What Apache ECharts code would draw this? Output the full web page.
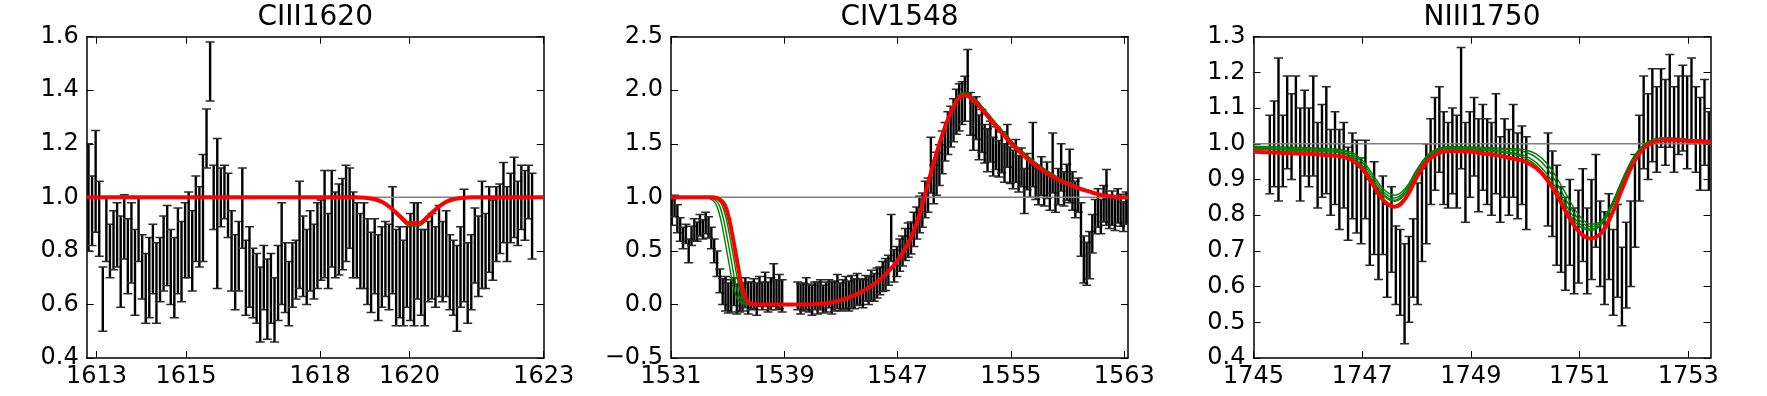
<!DOCTYPE html>
<html>
<head>
<meta charset="utf-8">
<title>Line fits</title>
<script src="https://cdn.jsdelivr.net/npm/echarts@6.0.0/dist/echarts.min.js"></script>
<style>
  html, body { margin: 0; padding: 0; background: #fff; }
  #main { width: 1767px; height: 396px; }
</style>
</head>
<body>
<div id="main"></div>
<script>
// ---- CIII1620 ----
const c3Wave = [
  1612.82, 1612.90, 1612.98, 1613.06, 1613.14, 1613.22, 1613.30, 1613.38, 1613.46, 1613.54,
  1613.62, 1613.70, 1613.78, 1613.86, 1613.94, 1614.02, 1614.10, 1614.18, 1614.26, 1614.34,
  1614.42, 1614.50, 1614.58, 1614.66, 1614.74, 1614.82, 1614.90, 1614.98, 1615.06, 1615.14,
  1615.22, 1615.30, 1615.38, 1615.46, 1615.54, 1615.62, 1615.70, 1615.78, 1615.86, 1615.94,
  1616.02, 1616.10, 1616.18, 1616.26, 1616.34, 1616.42, 1616.50, 1616.58, 1616.66, 1616.74,
  1616.82, 1616.90, 1616.98, 1617.06, 1617.14, 1617.22, 1617.30, 1617.38, 1617.46, 1617.54,
  1617.62, 1617.70, 1617.78, 1617.86, 1617.94, 1618.02, 1618.10, 1618.18, 1618.26, 1618.34,
  1618.42, 1618.50, 1618.58, 1618.66, 1618.74, 1618.82, 1618.90, 1618.98, 1619.06, 1619.14,
  1619.22, 1619.30, 1619.38, 1619.46, 1619.54, 1619.62, 1619.70, 1619.78, 1619.86, 1619.94,
  1620.02, 1620.10, 1620.18, 1620.26, 1620.34, 1620.42, 1620.50, 1620.58, 1620.66, 1620.74,
  1620.82, 1620.90, 1620.98, 1621.06, 1621.14, 1621.22, 1621.30, 1621.38, 1621.46, 1621.54,
  1621.62, 1621.70, 1621.78, 1621.86, 1621.94, 1622.02, 1622.10, 1622.18, 1622.26, 1622.34,
  1622.42, 1622.50, 1622.58, 1622.66, 1622.74
];
const c3Flux = [
  1.00, 0.95, 1.06, 0.92, 0.62, 0.88, 0.80, 0.84, 0.86, 0.76,
  0.89, 0.78, 0.83, 0.72, 0.88, 0.74, 0.66, 0.70, 0.77, 0.68,
  0.73, 0.79, 0.82, 0.74, 0.70, 0.80, 0.76, 0.84, 0.86, 0.80,
  0.92, 0.89, 0.96, 1.22, 1.47, 1.00, 0.94, 1.00, 1.02, 0.97,
  0.80, 0.72, 0.78, 0.96, 0.70, 0.74, 0.68, 0.66, 0.60, 0.70,
  0.62, 0.66, 0.58, 0.68, 0.79, 0.70, 0.64, 0.71, 0.73, 0.86,
  0.78, 0.74, 0.80, 0.76, 0.82, 0.84, 0.90, 0.80, 0.92, 0.86,
  0.88, 0.90, 0.94, 0.96, 0.86, 0.84, 0.80, 0.82, 0.76, 0.72,
  0.78, 0.70, 0.74, 0.77, 0.74, 0.84, 0.70, 0.72, 0.68, 0.74,
  0.74, 0.75, 0.80, 0.72, 0.70, 0.76, 0.78, 0.74, 0.80, 0.76,
  0.79, 0.72, 0.70, 0.66, 0.74, 0.82, 0.68, 0.72, 0.82, 0.78,
  0.86, 0.80, 0.88, 0.84, 0.90, 0.92, 0.98, 0.90, 0.96, 1.00,
  0.94, 1.00, 0.97, 1.02, 0.93
];
const c3Err = [
  0.20, 0.13, 0.19, 0.14, 0.12, 0.12, 0.10, 0.11, 0.12, 0.17,
  0.12, 0.14, 0.15, 0.16, 0.12, 0.12, 0.13, 0.15, 0.13, 0.15,
  0.12, 0.14, 0.15, 0.14, 0.15, 0.16, 0.15, 0.14, 0.16, 0.15,
  0.16, 0.15, 0.20, 0.11, 0.11, 0.12, 0.28, 0.11, 0.10, 0.12,
  0.15, 0.14, 0.13, 0.15, 0.14, 0.15, 0.13, 0.13, 0.14, 0.12,
  0.15, 0.13, 0.12, 0.14, 0.19, 0.13, 0.12, 0.12, 0.11, 0.20,
  0.15, 0.14, 0.15, 0.14, 0.16, 0.15, 0.20, 0.14, 0.18, 0.16,
  0.17, 0.17, 0.18, 0.15, 0.16, 0.14, 0.14, 0.16, 0.16, 0.15,
  0.14, 0.16, 0.15, 0.14, 0.16, 0.20, 0.18, 0.17, 0.16, 0.15,
  0.20, 0.23, 0.18, 0.16, 0.18, 0.15, 0.16, 0.15, 0.17, 0.15,
  0.16, 0.14, 0.14, 0.16, 0.15, 0.21, 0.15, 0.14, 0.14, 0.15,
  0.20, 0.14, 0.16, 0.15, 0.14, 0.13, 0.15, 0.14, 0.13, 0.15,
  0.12, 0.12, 0.13, 0.10, 0.16
];
const c3Fit = [
  [1612.78, 1.0], [1618.4, 1.0], [1618.6, 1.0], [1618.8, 1.0], [1619.0, 0.9985],
  [1619.2, 0.994], [1619.4, 0.982], [1619.6, 0.958], [1619.8, 0.927], [1620.0, 0.903],
  [1620.2, 0.903], [1620.4, 0.927], [1620.6, 0.958], [1620.8, 0.982], [1621.0, 0.994],
  [1621.2, 0.9985], [1621.4, 1.0], [1621.6, 1.0], [1621.8, 1.0], [1623.0, 1.0]
];
const c3Draws = [[
  [1612.78, 1.0], [1618.4, 1.0], [1618.6, 1.0], [1618.8, 1.0], [1619.0, 0.998],
  [1619.2, 0.993], [1619.4, 0.980], [1619.6, 0.954], [1619.8, 0.920], [1620.0, 0.893],
  [1620.2, 0.893], [1620.4, 0.920], [1620.6, 0.954], [1620.8, 0.980], [1621.0, 0.993],
  [1621.2, 0.998], [1621.4, 1.0], [1621.6, 1.0], [1621.8, 1.0], [1623.0, 1.0]
]];
const c3Ticks = [1613, 1615, 1618, 1620, 1623];

// ---- CIV1548 ----
const c4Wave = [
  1531.05, 1531.25, 1531.45, 1531.65, 1531.85, 1532.05, 1532.25, 1532.45, 1532.65, 1532.85,
  1533.05, 1533.25, 1533.45, 1533.65, 1533.85, 1534.05, 1534.25, 1534.45, 1534.65, 1534.85,
  1535.05, 1535.25, 1535.45, 1535.65, 1535.85, 1536.05, 1536.25, 1536.45, 1536.65, 1536.85,
  1537.05, 1537.25, 1537.45, 1537.65, 1537.85, 1538.05, 1538.25, 1538.45, 1538.65, 1538.85,
  1539.95, 1540.15, 1540.35, 1540.55, 1540.75, 1540.95, 1541.15, 1541.35, 1541.55, 1541.75,
  1541.95, 1542.15, 1542.35, 1542.55, 1542.75, 1542.95, 1543.15, 1543.35, 1543.55, 1543.75,
  1543.95, 1544.15, 1544.35, 1544.55, 1544.75, 1544.95, 1545.15, 1545.35, 1545.55, 1545.75,
  1545.95, 1546.15, 1546.35, 1546.55, 1546.75, 1546.95, 1547.15, 1547.35, 1547.55, 1547.75,
  1547.95, 1548.15, 1548.35, 1548.55, 1548.75, 1548.95, 1549.15, 1549.35, 1549.55, 1549.75,
  1549.95, 1550.15, 1550.35, 1550.55, 1550.75, 1550.95, 1551.15, 1551.35, 1551.55, 1551.75,
  1551.95, 1552.15, 1552.35, 1552.55, 1552.75, 1552.95, 1553.15, 1553.35, 1553.55, 1553.75,
  1553.95, 1554.15, 1554.35, 1554.55, 1554.75, 1554.95, 1555.15, 1555.35, 1555.55, 1555.75,
  1555.95, 1556.15, 1556.35, 1556.55, 1556.75, 1556.95, 1557.15, 1557.35, 1557.55, 1557.75,
  1557.95, 1558.15, 1558.35, 1558.55, 1558.75, 1558.95, 1559.15, 1559.35, 1559.55, 1559.75,
  1559.95, 1560.15, 1560.35, 1560.55, 1560.75, 1560.95, 1561.15, 1561.35, 1561.55, 1561.75,
  1561.95, 1562.15, 1562.35, 1562.55, 1562.75, 1562.95, 1563.15
];
const c4Flux = [
  0.86, 0.92, 0.80, 0.70, 0.62, 0.66, 0.50, 0.64, 0.70, 0.68,
  0.74, 0.70, 0.76, 0.72, 0.62, 0.50, 0.38, 0.22, 0.12, 0.10,
  0.06, 0.08, 0.12, 0.05, 0.09, 0.07, 0.11, 0.06, 0.08, 0.10,
  0.05, 0.12, 0.08, 0.14, 0.07, 0.10, 0.18, 0.09, 0.12, 0.08,
  0.08, 0.05, 0.07, 0.10, 0.06, 0.04, 0.08, 0.06, 0.09, 0.05,
  0.07, 0.10, 0.06, 0.08, 0.12, 0.07, 0.09, 0.11, 0.08, 0.12,
  0.10, 0.14, 0.12, 0.10, 0.15, 0.13, 0.18, 0.16, 0.20, 0.22,
  0.26, 0.28, 0.32, 0.62, 0.36, 0.40, 0.46, 0.50, 0.56, 0.60,
  0.62, 0.70, 0.76, 0.84, 0.88, 0.98, 1.02, 1.30, 1.12, 1.22,
  1.30, 1.42, 1.52, 1.60, 1.66, 1.72, 1.80, 1.84, 1.88, 1.92,
  2.16, 1.78, 1.66, 1.74, 1.56, 1.62, 1.50, 1.44, 1.52, 1.38,
  1.46, 1.36, 1.42, 1.32, 1.48, 1.30, 1.26, 1.34, 1.22, 1.28,
  1.06, 1.24, 1.18, 1.40, 1.14, 1.10, 1.20, 1.08, 1.16, 1.04,
  1.32, 1.02, 1.10, 1.28, 1.08, 1.14, 1.20, 1.06, 0.98, 1.02,
  0.70, 0.42, 0.38, 0.46, 0.66, 0.82, 0.90, 0.82, 0.94, 1.00,
  0.86, 0.90, 0.84, 0.92, 0.88, 0.82, 0.90
];
const c4Err = [
  0.12, 0.10, 0.13, 0.11, 0.10, 0.09, 0.11, 0.09, 0.10, 0.09,
  0.10, 0.09, 0.10, 0.10, 0.10, 0.11, 0.12, 0.11, 0.12, 0.16,
  0.14, 0.15, 0.13, 0.14, 0.16, 0.13, 0.14, 0.15, 0.13, 0.14,
  0.15, 0.14, 0.13, 0.16, 0.14, 0.15, 0.20, 0.14, 0.16, 0.15,
  0.13, 0.14, 0.13, 0.15, 0.13, 0.14, 0.13, 0.15, 0.14, 0.13,
  0.14, 0.13, 0.15, 0.14, 0.16, 0.13, 0.14, 0.15, 0.14, 0.15,
  0.14, 0.15, 0.12, 0.13, 0.12, 0.13, 0.14, 0.13, 0.14, 0.13,
  0.14, 0.15, 0.14, 0.22, 0.15, 0.14, 0.15, 0.14, 0.15, 0.16,
  0.15, 0.16, 0.15, 0.17, 0.16, 0.17, 0.16, 0.26, 0.18, 0.20,
  0.19, 0.20, 0.18, 0.20, 0.19, 0.20, 0.21, 0.22, 0.20, 0.21,
  0.22, 0.20, 0.22, 0.20, 0.21, 0.20, 0.18, 0.20, 0.19, 0.18,
  0.20, 0.17, 0.19, 0.18, 0.20, 0.17, 0.18, 0.20, 0.17, 0.18,
  0.21, 0.17, 0.18, 0.30, 0.16, 0.17, 0.18, 0.16, 0.17, 0.16,
  0.28, 0.16, 0.17, 0.22, 0.16, 0.17, 0.25, 0.18, 0.17, 0.16,
  0.25, 0.22, 0.20, 0.22, 0.18, 0.16, 0.18, 0.16, 0.17, 0.26,
  0.15, 0.16, 0.15, 0.16, 0.15, 0.14, 0.15
];
const c4Fit = [
  [1531.0, 1.0], [1533.3, 1.0], [1533.6, 1.0], [1533.9, 1.0], [1534.2, 0.995],
  [1534.5, 0.975], [1534.8, 0.93], [1535.1, 0.8], [1535.4, 0.6], [1535.7, 0.38],
  [1536.0, 0.17], [1536.3, 0.05], [1536.6, 0.012], [1536.9, 0.002], [1537.2, 0.0],
  [1537.5, 0.0], [1540.0, 0.0], [1541.0, 0.003], [1542.0, 0.012], [1543.0, 0.04],
  [1544.0, 0.09], [1545.0, 0.16], [1546.0, 0.26], [1546.5, 0.33], [1547.0, 0.41],
  [1547.5, 0.51], [1548.0, 0.64], [1548.5, 0.82], [1549.0, 1.06], [1549.5, 1.3],
  [1550.0, 1.52], [1550.5, 1.71], [1551.0, 1.86], [1551.3, 1.925], [1551.6, 1.955],
  [1551.9, 1.95], [1552.2, 1.925], [1552.5, 1.89], [1553.0, 1.815], [1553.5, 1.735],
  [1554.0, 1.655], [1554.5, 1.58], [1555.0, 1.505], [1555.5, 1.44], [1556.0, 1.38],
  [1556.5, 1.325], [1557.0, 1.275], [1557.5, 1.23], [1558.0, 1.19], [1558.5, 1.155],
  [1559.0, 1.125], [1559.5, 1.1], [1560.0, 1.075], [1560.5, 1.055], [1561.0, 1.035],
  [1561.5, 1.02], [1562.0, 1.01], [1562.5, 1.004], [1563.0, 1.001], [1563.27, 1.0]
];
const c4DrawTail = [
  [1537.5, 0.0], [1540.0, 0.0], [1541.0, 0.003], [1542.0, 0.013], [1543.0, 0.042],
  [1544.0, 0.093], [1545.0, 0.165], [1546.0, 0.266], [1546.5, 0.337], [1547.0, 0.418],
  [1547.5, 0.52], [1548.0, 0.65], [1548.5, 0.83], [1549.0, 1.07], [1549.5, 1.31],
  [1550.0, 1.535], [1550.5, 1.725], [1551.0, 1.875], [1551.3, 1.945], [1551.6, 1.975],
  [1551.9, 1.97], [1552.2, 1.948], [1552.5, 1.915], [1553.0, 1.842], [1553.5, 1.762],
  [1554.0, 1.682], [1554.5, 1.607], [1555.0, 1.532], [1555.5, 1.466], [1556.0, 1.405],
  [1556.5, 1.35], [1557.0, 1.298], [1557.5, 1.252], [1558.0, 1.21], [1558.5, 1.173],
  [1559.0, 1.14], [1559.5, 1.113], [1560.0, 1.086], [1560.5, 1.064], [1561.0, 1.042],
  [1561.5, 1.025], [1562.0, 1.013], [1562.5, 1.005], [1563.0, 1.001], [1563.27, 1.0]
];
const c4Draws = [
  [[1531.0, 1.0], [1533.1, 1.0], [1533.4, 1.0], [1533.7, 1.0], [1534.0, 0.995],
   [1534.3, 0.975], [1534.6, 0.93], [1534.9, 0.8], [1535.2, 0.6], [1535.5, 0.38],
   [1535.8, 0.17], [1536.1, 0.05], [1536.4, 0.012], [1536.7, 0.002], [1537.0, 0.0]].concat(c4DrawTail),
  [[1531.0, 1.0], [1532.9, 1.0], [1533.2, 1.0], [1533.5, 1.0], [1533.8, 0.995],
   [1534.1, 0.975], [1534.4, 0.93], [1534.7, 0.8], [1535.0, 0.6], [1535.3, 0.38],
   [1535.6, 0.17], [1535.9, 0.05], [1536.2, 0.012], [1536.5, 0.002], [1536.8, 0.0]].concat(c4DrawTail),
  [[1531.0, 1.0], [1532.7, 1.0], [1533.0, 1.0], [1533.3, 1.0], [1533.6, 0.995],
   [1533.9, 0.975], [1534.2, 0.93], [1534.5, 0.8], [1534.8, 0.6], [1535.1, 0.38],
   [1535.4, 0.17], [1535.7, 0.05], [1536.0, 0.012], [1536.3, 0.002], [1536.6, 0.0]].concat(c4DrawTail)
];
const c4Ticks = [1531, 1539, 1547, 1555, 1563];

// ---- NIII1750 ----
const c5Wave = [
  1745.30, 1745.38, 1745.46, 1745.54, 1745.62, 1745.70, 1745.78, 1745.86, 1745.94, 1746.02,
  1746.10, 1746.18, 1746.26, 1746.34, 1746.42, 1746.50, 1746.58, 1746.66, 1746.74, 1746.82,
  1746.90, 1746.98, 1747.06, 1747.14, 1747.22, 1747.30, 1747.38, 1747.46, 1747.54, 1747.62,
  1747.70, 1747.78, 1747.86, 1747.94, 1748.02, 1748.10, 1748.18, 1748.26, 1748.34, 1748.42,
  1748.50, 1748.58, 1748.66, 1748.74, 1748.82, 1748.90, 1748.98, 1749.06, 1749.14, 1749.22,
  1749.30, 1749.38, 1749.46, 1749.54, 1749.62, 1749.70, 1749.78, 1749.86, 1749.94, 1750.02,
  1750.42, 1750.50, 1750.58, 1750.66, 1750.74, 1750.82, 1750.90, 1750.98, 1751.06, 1751.14,
  1751.22, 1751.30, 1751.38, 1751.46, 1751.54, 1751.62, 1751.70, 1751.78, 1751.86, 1751.94,
  1752.02, 1752.10, 1752.18, 1752.26, 1752.34, 1752.42, 1752.50, 1752.58, 1752.66, 1752.74,
  1752.82, 1752.90, 1752.98, 1753.06, 1753.14, 1753.22, 1753.30, 1753.38
];
const c5Flux = [
  0.97, 1.00, 1.04, 0.98, 1.06, 1.02, 1.08, 0.97, 1.03, 0.99,
  1.05, 0.94, 0.98, 1.01, 0.92, 0.96, 0.90, 0.94, 0.86, 0.91,
  0.88, 0.84, 0.90, 0.78, 0.82, 0.74, 0.80, 0.70, 0.76, 0.66,
  0.64, 0.58, 0.62, 0.68, 0.72, 0.80, 0.86, 0.95, 1.00, 1.04,
  0.96, 0.94, 0.98, 0.95, 1.10, 0.92, 0.97, 1.02, 0.94, 0.99,
  0.95, 0.93, 1.00, 0.90, 0.96, 0.92, 0.98, 0.91, 0.94, 0.89,
  0.90, 0.86, 0.80, 0.76, 0.72, 0.78, 0.70, 0.74, 0.80, 0.70,
  0.76, 0.84, 0.72, 0.68, 0.74, 0.64, 0.70, 0.60, 0.66, 0.72,
  0.84, 0.96, 1.06, 1.02, 1.08, 1.04, 1.10, 1.06, 1.12, 1.04,
  1.08, 1.10, 1.06, 1.12, 1.04, 1.00, 1.06, 0.98
];
const c5Err = [
  0.11, 0.12, 0.20, 0.10, 0.13, 0.12, 0.11, 0.13, 0.12, 0.11,
  0.14, 0.12, 0.13, 0.15, 0.12, 0.13, 0.14, 0.12, 0.13, 0.12,
  0.13, 0.12, 0.11, 0.12, 0.13, 0.12, 0.11, 0.13, 0.12, 0.11,
  0.12, 0.14, 0.12, 0.11, 0.17, 0.13, 0.14, 0.12, 0.13, 0.12,
  0.13, 0.12, 0.12, 0.13, 0.17, 0.14, 0.12, 0.11, 0.13, 0.12,
  0.12, 0.13, 0.14, 0.12, 0.11, 0.12, 0.13, 0.12, 0.11, 0.13,
  0.13, 0.12, 0.14, 0.12, 0.13, 0.12, 0.12, 0.13, 0.13, 0.12,
  0.14, 0.13, 0.12, 0.13, 0.12, 0.12, 0.13, 0.11, 0.12, 0.12,
  0.13, 0.12, 0.13, 0.12, 0.13, 0.12, 0.11, 0.12, 0.13, 0.12,
  0.11, 0.12, 0.13, 0.12, 0.12, 0.13, 0.12, 0.11
];
const c5Fit = [
  [1745.0, 0.978], [1745.5, 0.975], [1746.0, 0.972], [1746.4, 0.968], [1746.6, 0.965],
  [1746.8, 0.955], [1747.0, 0.93], [1747.2, 0.885], [1747.4, 0.84], [1747.6, 0.824],
  [1747.8, 0.848], [1748.0, 0.905], [1748.2, 0.952], [1748.4, 0.974], [1748.6, 0.98],
  [1748.8, 0.98], [1749.0, 0.978], [1749.4, 0.97], [1749.8, 0.958], [1750.0, 0.95],
  [1750.2, 0.932], [1750.4, 0.9], [1750.6, 0.852], [1750.8, 0.796], [1751.0, 0.752],
  [1751.2, 0.735], [1751.4, 0.75], [1751.6, 0.805], [1751.8, 0.88], [1752.0, 0.948],
  [1752.2, 0.99], [1752.4, 1.006], [1752.6, 1.01], [1752.8, 1.01], [1753.0, 1.008],
  [1753.41, 1.005]
];
const c5Draws = [
  [[1745.0, 0.99], [1745.5, 0.988], [1746.0, 0.986], [1746.4, 0.983], [1746.6, 0.981],
   [1746.8, 0.972], [1747.0, 0.948], [1747.2, 0.905], [1747.4, 0.864], [1747.6, 0.848],
   [1747.8, 0.87], [1748.0, 0.922], [1748.2, 0.965], [1748.4, 0.985], [1748.6, 0.99],
   [1748.8, 0.99], [1749.0, 0.989], [1749.4, 0.986], [1749.8, 0.982], [1750.0, 0.977],
   [1750.2, 0.962], [1750.4, 0.932], [1750.6, 0.885], [1750.8, 0.83], [1751.0, 0.786],
   [1751.2, 0.768], [1751.4, 0.781], [1751.6, 0.832], [1751.8, 0.902], [1752.0, 0.962],
   [1752.2, 0.998], [1752.4, 1.012], [1752.6, 1.016], [1752.8, 1.015], [1753.0, 1.012],
   [1753.41, 1.008]],
  [[1745.0, 0.987], [1745.5, 0.985], [1746.0, 0.983], [1746.4, 0.98], [1746.6, 0.977],
   [1746.8, 0.966], [1747.0, 0.94], [1747.2, 0.897], [1747.4, 0.857], [1747.6, 0.842],
   [1747.8, 0.864], [1748.0, 0.916], [1748.2, 0.961], [1748.4, 0.982], [1748.6, 0.988],
   [1748.8, 0.988], [1749.0, 0.986], [1749.4, 0.982], [1749.8, 0.974], [1750.0, 0.966],
   [1750.2, 0.948], [1750.4, 0.915], [1750.6, 0.868], [1750.8, 0.816], [1751.0, 0.776],
   [1751.2, 0.761], [1751.4, 0.776], [1751.6, 0.828], [1751.8, 0.899], [1752.0, 0.96],
   [1752.2, 0.997], [1752.4, 1.011], [1752.6, 1.015], [1752.8, 1.014], [1753.0, 1.011],
   [1753.41, 1.008]],
  [[1745.0, 0.993], [1745.5, 0.991], [1746.0, 0.989], [1746.4, 0.986], [1746.6, 0.984],
   [1746.8, 0.977], [1747.0, 0.955], [1747.2, 0.913], [1747.4, 0.872], [1747.6, 0.856],
   [1747.8, 0.876], [1748.0, 0.927], [1748.2, 0.968], [1748.4, 0.987], [1748.6, 0.992],
   [1748.8, 0.992], [1749.0, 0.991], [1749.4, 0.989], [1749.8, 0.986], [1750.0, 0.983],
   [1750.2, 0.972], [1750.4, 0.945], [1750.6, 0.9], [1750.8, 0.846], [1751.0, 0.798],
   [1751.2, 0.775], [1751.4, 0.784], [1751.6, 0.835], [1751.8, 0.905], [1752.0, 0.965],
   [1752.2, 1.0], [1752.4, 1.014], [1752.6, 1.017], [1752.8, 1.016], [1753.0, 1.012],
   [1753.41, 1.008]],
  [[1745.0, 0.985], [1745.5, 0.983], [1746.0, 0.98], [1746.4, 0.977], [1746.6, 0.974],
   [1746.8, 0.962], [1747.0, 0.936], [1747.2, 0.893], [1747.4, 0.853], [1747.6, 0.839],
   [1747.8, 0.861], [1748.0, 0.913], [1748.2, 0.958], [1748.4, 0.98], [1748.6, 0.986],
   [1748.8, 0.986], [1749.0, 0.984], [1749.4, 0.979], [1749.8, 0.97], [1750.0, 0.96],
   [1750.2, 0.94], [1750.4, 0.906], [1750.6, 0.858], [1750.8, 0.806], [1751.0, 0.769],
   [1751.2, 0.757], [1751.4, 0.773], [1751.6, 0.825], [1751.8, 0.896], [1752.0, 0.958],
   [1752.2, 0.996], [1752.4, 1.01], [1752.6, 1.014], [1752.8, 1.013], [1753.0, 1.01],
   [1753.41, 1.007]]
];
const c5Ticks = [1745, 1747, 1749, 1751, 1753];

const CONTINUUM = 1.0;
const FONT = 'DejaVu Sans';

const panels = [
  { title: 'CIII1620', left: 86.7, xMin: 1612.78, xMax: 1623.0, yMin: 0.4, yMax: 1.6, yStep: 0.2,
    ticks: c3Ticks, wave: c3Wave, flux: c3Flux, err: c3Err, fit: c3Fit, draws: c3Draws },
  { title: 'CIV1548', left: 671, xMin: 1531, xMax: 1563.27, yMin: -0.5, yMax: 2.5, yStep: 0.5,
    ticks: c4Ticks, wave: c4Wave, flux: c4Flux, err: c4Err, fit: c4Fit, draws: c4Draws },
  { title: 'NIII1750', left: 1253.5, xMin: 1745, xMax: 1753.41, yMin: 0.4, yMax: 1.3, yStep: 0.1,
    ticks: c5Ticks, wave: c5Wave, flux: c5Flux, err: c5Err, fit: c5Fit, draws: c5Draws }
];
const gridTop = 36.7, gridHeight = 321.3, gridWidth = 457;

function renderErrorBar(params, api) {
  const x = api.value(0);
  const lo = api.coord([x, api.value(1)]);
  const hi = api.coord([x, api.value(2)]);
  const cap = 4.5;
  const barStyle = { stroke: '#000', lineWidth: 2.4 };
  const capStyle = { stroke: '#2a2a2a', lineWidth: 1.5 };
  return {
    type: 'group',
    children: [
      { type: 'line', shape: { x1: lo[0], y1: lo[1], x2: hi[0], y2: hi[1] }, style: barStyle },
      { type: 'line', shape: { x1: lo[0] - cap, y1: lo[1], x2: lo[0] + cap, y2: lo[1] }, style: capStyle },
      { type: 'line', shape: { x1: hi[0] - cap, y1: hi[1], x2: hi[0] + cap, y2: hi[1] }, style: capStyle }
    ]
  };
}

const axisLine = { show: true, onZero: false, lineStyle: { color: '#000', width: 1.5 } };
const tickLine = { color: '#000', width: 1 };
const labelStyle = { color: '#000', fontFamily: FONT, fontSize: 24 };

let grid = [], xAxis = [], yAxis = [], series = [], graphic = [];

panels.forEach((p, i) => {
  grid.push({ left: p.left, top: gridTop, width: gridWidth, height: gridHeight });

  const xBase = {
    type: 'value', gridIndex: i, min: p.xMin, max: p.xMax,
    splitLine: { show: false }, axisLine: axisLine,
    axisTick: { show: true, inside: true, length: 7, customValues: p.ticks, lineStyle: tickLine }
  };
  xAxis.push(Object.assign({}, xBase, { position: 'bottom',
    axisLabel: Object.assign({ show: true, margin: 7, customValues: p.ticks,
      formatter: v => String(v) }, labelStyle) }));
  xAxis.push(Object.assign({}, xBase, { position: 'top', axisLabel: { show: false } }));

  const yBase = {
    type: 'value', gridIndex: i, min: p.yMin, max: p.yMax, interval: p.yStep,
    splitLine: { show: false }, axisLine: axisLine,
    axisTick: { show: true, inside: true, length: 7, lineStyle: tickLine }
  };
  yAxis.push(Object.assign({}, yBase, { position: 'left',
    axisLabel: Object.assign({ show: true, margin: 8,
      formatter: v => v.toFixed(1).replace('-', '\u2212') }, labelStyle) }));
  yAxis.push(Object.assign({}, yBase, { position: 'right', axisLabel: { show: false } }));

  const xi = 2 * i, yi = 2 * i;
  series.push({
    type: 'custom', xAxisIndex: xi, yAxisIndex: yi, renderItem: renderErrorBar, clip: true,
    encode: { x: 0, y: [1, 2] }, silent: true,
    data: p.wave.map((w, k) => [w, p.flux[k] - p.err[k], p.flux[k] + p.err[k]])
  });
  series.push({
    type: 'line', xAxisIndex: xi, yAxisIndex: yi, showSymbol: false, silent: true,
    data: [[p.xMin, CONTINUUM], [p.xMax, CONTINUUM]],
    lineStyle: { color: '#808080', width: 1.5 }
  });
  p.draws.forEach(d => series.push({
    type: 'line', xAxisIndex: xi, yAxisIndex: yi, showSymbol: false, silent: true,
    smooth: 0.4, data: d,
    lineStyle: { color: '#008000', width: 1.4 }
  }));
  series.push({
    type: 'line', xAxisIndex: xi, yAxisIndex: yi, showSymbol: false, silent: true,
    smooth: 0.4, data: p.fit,
    lineStyle: { color: '#ff0000', width: 4 }
  });

  graphic.push({
    type: 'text', x: p.left + gridWidth / 2, y: 18, silent: true,
    style: { text: p.title, fill: '#000', font: '28px "DejaVu Sans"', align: 'center', verticalAlign: 'middle' }
  });
});

const chart = echarts.init(document.getElementById('main'), null, { renderer: 'canvas' });
chart.setOption({
  animation: false,
  backgroundColor: '#fff',
  grid: grid,
  xAxis: xAxis,
  yAxis: yAxis,
  series: series,
  graphic: graphic
});
</script>
</body>
</html>
